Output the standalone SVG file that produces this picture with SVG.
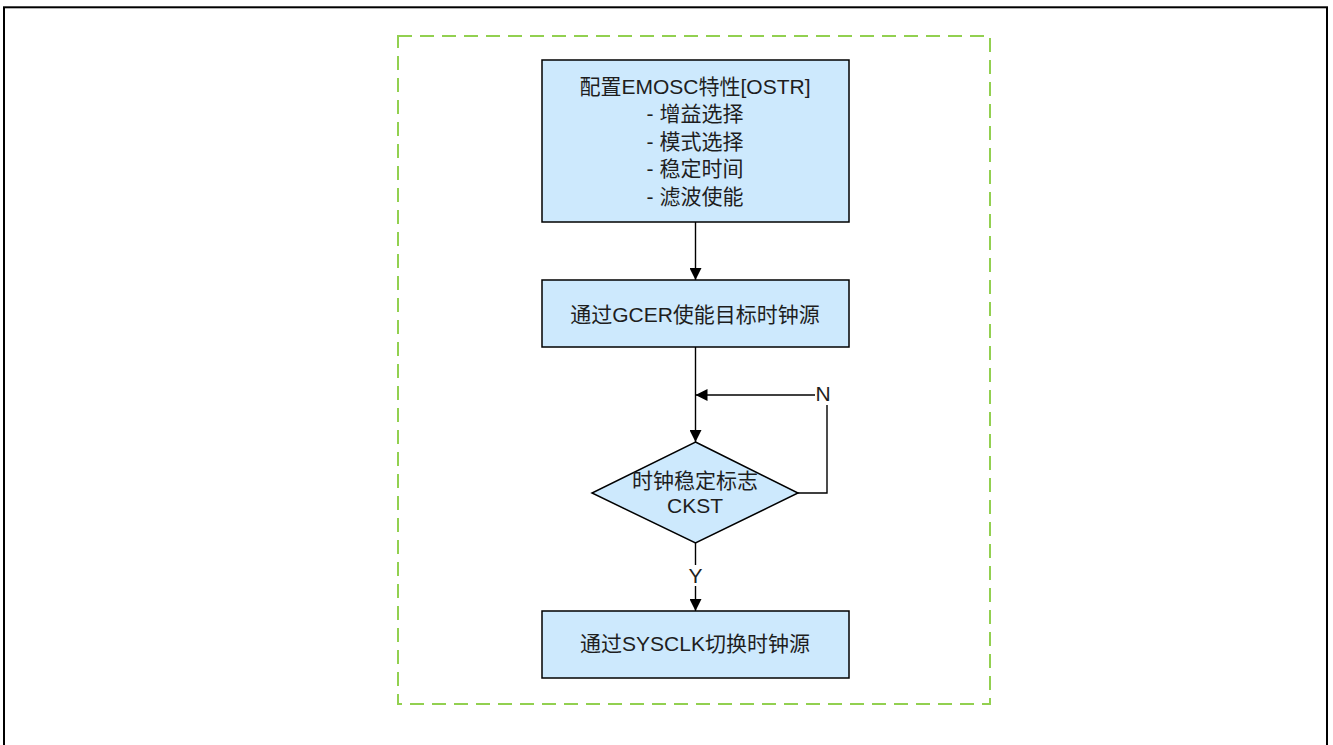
<svg xmlns="http://www.w3.org/2000/svg" width="1333" height="745" viewBox="0 0 1333 745">
<style>
.box{fill:#cde9fd;stroke:#000;stroke-width:1.5}
.t{font-family:"Liberation Sans","Noto Sans CJK SC",sans-serif;font-size:21px;fill:#1e1e1e;text-anchor:middle}
.ln{fill:none;stroke:#000;stroke-width:1.4}
</style>
<defs>
<marker id="ah" markerWidth="12" markerHeight="12" refX="12" refY="6" orient="auto" markerUnits="userSpaceOnUse">
<path d="M0,0 L12,6 L0,12 Z" fill="#000"/>
</marker>
</defs>
<rect x="4" y="7.3" width="1323" height="745" fill="none" stroke="#000" stroke-width="2"/>
<rect x="398" y="36" width="592" height="668" fill="none" stroke="#92d050" stroke-width="2" stroke-dasharray="14 8"/>
<g id="connectors">
<line class="ln" x1="695.5" y1="222" x2="695.5" y2="280" marker-end="url(#ah)"/>
<line class="ln" x1="695.5" y1="347" x2="695.5" y2="442" marker-end="url(#ah)"/>
<polyline class="ln" points="798,493 827,493 827,405"/>
<line class="ln" x1="815" y1="395" x2="695.5" y2="395" marker-end="url(#ah)"/>
<line class="ln" x1="695.5" y1="543" x2="695.5" y2="565"/>
<line class="ln" x1="695.5" y1="586" x2="695.5" y2="611" marker-end="url(#ah)"/>
<text class="t" x="823" y="401">N</text>
<text class="t" x="695.5" y="583">Y</text>
</g>
<g id="n1">
<rect class="box" x="542" y="60" width="307" height="162"/>
<text class="t" x="695" y="93.5">配置EMOSC特性[OSTR]</text>
<text class="t" x="695" y="121">- 增益选择</text>
<text class="t" x="695" y="148.5">- 模式选择</text>
<text class="t" x="695" y="176">- 稳定时间</text>
<text class="t" x="695" y="203.5">- 滤波使能</text>
</g>
<g id="n2">
<rect class="box" x="542" y="280" width="307" height="67"/>
<text class="t" x="695" y="322">通过GCER使能目标时钟源</text>
</g>
<g id="n3">
<polygon class="box" points="695.5,442 798,493 695.5,543 592,493"/>
<text class="t" x="695" y="488">时钟稳定标志</text>
<text class="t" x="695" y="513">CKST</text>
</g>
<g id="n4">
<rect class="box" x="542" y="611" width="307" height="67"/>
<text class="t" x="695" y="651">通过SYSCLK切换时钟源</text>
</g>
</svg>
